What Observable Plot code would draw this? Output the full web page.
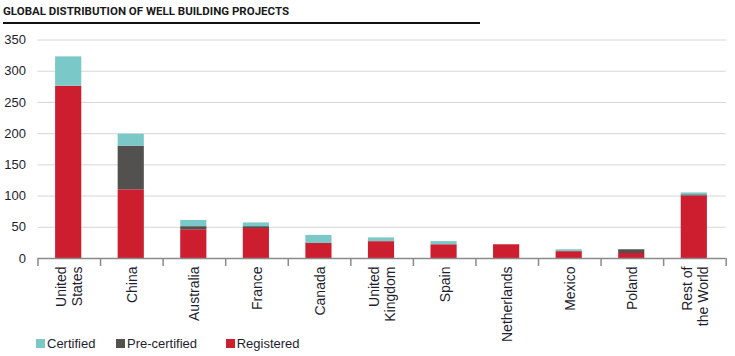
<!DOCTYPE html>
<html>
<head>
<meta charset="utf-8">
<script src="https://cdn.jsdelivr.net/npm/d3@7"></script>
<script src="https://cdn.jsdelivr.net/npm/@observablehq/plot@0.6"></script>
<style>
  html, body { margin: 0; padding: 0; background: #fff; }
  #wrap { position: relative; width: 735px; height: 356px; overflow: hidden; }
  #title { position: absolute; left: 3px; top: 4px; font-family: Roboto, "Liberation Sans", sans-serif; font-weight: 700; font-size: 11.5px; color: #1a1a1a; }
  #rule { position: absolute; left: 3px; top: 22px; width: 477px; height: 2px; background: #111; }
  #legend { position: absolute; left: 0; top: 336px; height: 16px; font-family: "Liberation Sans", Arial, sans-serif; font-size: 13px; color: #1e1e2e; }
  .item { position: absolute; top: 0; display: flex; align-items: center; white-space: nowrap; }
  .sw { width: 9px; height: 9px; margin-right: 2px; display: inline-block; }
</style>
</head>
<body>
<div id="wrap">
  <div id="chart"></div>
  <div id="title">GLOBAL DISTRIBUTION OF WELL BUILDING PROJECTS</div>
  <div id="rule"></div>
  <div id="legend"></div>
</div>
<script>
const categories = ["United\nStates", "China", "Australia", "France", "Canada", "United\nKingdom", "Spain", "Netherlands", "Mexico", "Poland", "Rest of\nthe World"];
const registered   = [276, 110, 46, 48, 24, 27, 22, 22, 11, 8, 100];
const precertified = [0, 70, 5, 3, 0, 0, 0, 0, 0, 6, 2];
const certified    = [47, 19, 10, 6, 13, 6, 5, 0, 3, 0, 3];
const seriesNames  = ["Registered", "Pre-certified", "Certified"];
const seriesColors = ["#cd1e2f", "#53514f", "#7bc8c8"];
const yTicks = [0, 50, 100, 150, 200, 250, 300, 350];

const seriesValues = [registered, precertified, certified];
const rows = [];
categories.forEach((c, i) => {
  let base = 0;
  seriesValues.forEach((vals, s) => {
    const v = vals[i];
    if (v > 0) rows.push({i, cat: c, status: seriesNames[s], y1: base, y2: base + v});
    base += v;
  });
});

const W = 735, H = 356;
const plot = Plot.plot({
  width: W,
  height: H,
  marginLeft: 37.5,
  marginRight: 9.3,
  marginTop: 39.5,
  marginBottom: 98,
  style: { fontFamily: "'Liberation Sans', Arial, sans-serif", color: "#1e1e2e", background: "transparent", overflow: "visible" },
  x: { type: "linear", domain: [0, categories.length] },
  y: { domain: [0, 350] },
  color: { domain: seriesNames, range: seriesColors },
  marks: [
    Plot.gridY(yTicks.filter(d => d > 0), { stroke: "#d6d6d6", strokeOpacity: 1, strokeWidth: 1 }),
    Plot.axisY({ ticks: yTicks, tickSize: 0, tickPadding: 12, fontSize: 13, label: null, fill: "#1e1e2e" }),
    Plot.rect(rows, { x1: "i", x2: d => d.i + 1, y1: "y1", y2: "y2", fill: "status", insetLeft: 17.6, insetRight: 18.8 }),
    Plot.ruleY([0], { stroke: "#8a8a8a", strokeWidth: 1.5 }),
    Plot.axisX({ ticks: d3.range(categories.length + 1), tickSize: 8, tickFormat: () => "", stroke: "#8a8a8a", strokeWidth: 1.5, label: null }),
    Plot.axisX({ ticks: d3.range(categories.length).map(i => i + 0.5), tickSize: 0, tickPadding: 8, tickRotate: -90, fontSize: 14, lineHeight: 1.12, tickFormat: d => categories[Math.floor(d)], label: null, fill: "#1e1e2e" })
  ]
});
document.getElementById("chart").appendChild(plot);

const legend = document.getElementById("legend");
const legendOrder = [["Certified", "#7bc8c8", 36], ["Pre-certified", "#53514f", 116], ["Registered", "#cd1e2f", 225.7]];
legendOrder.forEach(([name, col, left]) => {
  const it = document.createElement("div");
  it.className = "item";
  it.style.left = left + "px";
  it.innerHTML = `<span class="sw" style="background:${col}"></span><span>${name}</span>`;
  legend.appendChild(it);
});
</script>
</body>
</html>
